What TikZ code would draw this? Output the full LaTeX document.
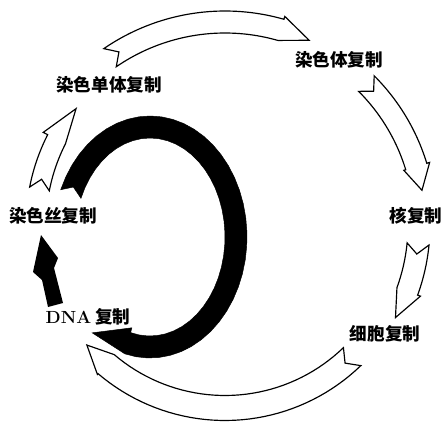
\documentclass[tikz,border=0pt]{standalone}
\usepackage{fontspec}
\newfontfamily\cjk{Noto Sans CJK SC}
\usetikzlibrary{positioning}

% barb, notch and tip settings used by \ringarrow
\newcommand{\barbout}{3}
\newcommand{\barbin}{0}
\newcommand{\notchang}{3}
\newcommand{\tipoff}{0}
% #1 style, #2 #3 centre, #4 #5 radii, #6 half width, #7 tail, #8 head base, #9 tip
\newcommand{\ringarrow}[9]{%
  \draw[#1] plot[domain=#7:#8,samples=40] ({#2+(#4+#6)*cos(\x)},{#3+(#5+#6)*sin(\x)})
    -- ({#2+(#4+#6+\barbout)*cos(#8)},{#3+(#5+#6+\barbout)*sin(#8)})
    -- ({#2+(#4+\tipoff)*cos(#9)},{#3+(#5+\tipoff)*sin(#9)})
    -- ({#2+(#4-#6-\barbin)*cos(#8)},{#3+(#5-#6-\barbin)*sin(#8)})
    -- plot[domain=#8:#7,samples=40] ({#2+(#4-#6)*cos(\x)},{#3+(#5-#6)*sin(\x)})
    -- ({#2+#4*cos(#7+\notchang)},{#3+#5*sin(#7+\notchang)}) -- cycle;}

\begin{document}
\begin{tikzpicture}[x=0.03cm,y=-0.03cm,
    stage/.style={font=\cjk\bfseries\fontsize{15}{18}\selectfont,inner sep=0pt},
    hollow/.style={draw=black,fill=white,line width=1pt,line join=miter},
    solid/.style={fill=black}]
  \useasboundingbox (0,0) rectangle (443,422);

  % stage labels
  \node[stage] (single) at (109,85) {染色单体复制};
  \node[stage] (chromosome) at (339,60) {染色体复制};
  \node[stage] (nucleus) at (416,216) {核复制};
  \node[stage] (cell) at (385,334) {细胞复制};
  \node[stage] (dna) at (88,317) {{\rmfamily\bfseries DNA} 复制};
  \node[stage] (fiber) at (53,216) {染色丝复制};

  % outer cycle of hollow arrows
  \ringarrow{hollow}{225}{225}{203}{203}{11}{-124.5}{-74}{-65.5}
  \begin{scope}
    \renewcommand{\barbin}{2}
    \ringarrow{hollow}{225}{225}{200}{200}{11}{-45}{-17}{-10}
  \end{scope}
  \ringarrow{hollow}{225}{225}{194}{194}{11}{5.6}{20}{28.5}
  \begin{scope}
    \renewcommand{\barbout}{1}
    \ringarrow{hollow}{225}{225}{183}{183}{12.5}{46}{130.5}{139}
  \end{scope}
  \begin{scope}
    \renewcommand{\barbout}{5}
    \ringarrow{hollow}{225}{225}{189}{189}{10}{-169}{-153}{-142}
  \end{scope}

  % inner cycle of solid arrows
  \begin{scope}
    \renewcommand{\barbout}{0}
    \renewcommand{\barbin}{5}
    \renewcommand{\tipoff}{10}
    \renewcommand{\notchang}{4}
    \ringarrow{solid}{150}{237}{86}{110}{11}{-157}{105}{127}
  \end{scope}
  \fill (41,235) -- (58,258) -- (54,268) -- (63,303) -- (48,307)
    -- (42,280) -- (33,272) -- cycle;
\end{tikzpicture}
\end{document}
